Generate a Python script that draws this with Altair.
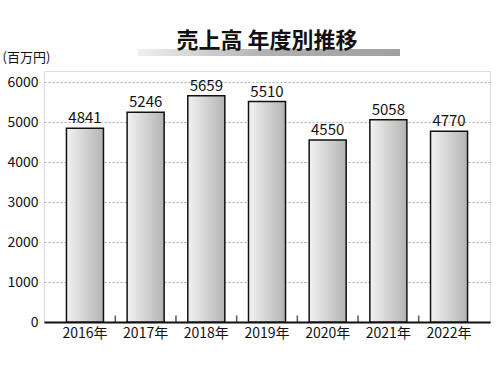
import altair as alt
import pandas as pd

years = ["2016年", "2017年", "2018年", "2019年", "2020年", "2021年", "2022年"]
sales = [4841, 5246, 5659, 5510, 4550, 5058, 4770]

df = pd.DataFrame({"year": years, "sales": sales})
bdf = pd.DataFrame({"year": years[:-1]})

FONT = "Noto Sans CJK JP"
P_IN = 0.39
P_OUT = 0.37
W = 446
STEP = W / (len(years) - P_IN + 2 * P_OUT)

xscale = alt.Scale(paddingInner=P_IN, paddingOuter=P_OUT)
x = alt.X("year:N", sort=years, scale=xscale,
          axis=alt.Axis(title=None, labelAngle=0, labelFontSize=14, labelFont=FONT,
                        labelColor="#111", ticks=False,
                        domainColor="#111", domainWidth=2, labelPadding=4))
y = alt.Y("sales:Q", scale=alt.Scale(domain=[0, 6275], nice=False),
          axis=alt.Axis(title="(百万円)", titleAngle=0, titleX=-42, titleY=-10,
                        titleAlign="left", titleBaseline="alphabetic",
                        titleFontSize=13, titleFontWeight="normal", titleFont=FONT,
                        titleColor="#111",
                        values=[0, 1000, 2000, 3000, 4000, 5000, 6000], format="d",
                        labelFontSize=14, labelFont=FONT, labelColor="#111",
                        grid=True, gridDash=[2, 2], gridColor="#aaa",
                        tickSize=0, domain=False, labelPadding=6))

bars = alt.Chart(df).mark_bar(
    color=alt.Gradient(gradient="linear", x1=0, x2=1, y1=0, y2=0,
                       stops=[alt.GradientStop(offset=0, color="#f2f2f2"),
                              alt.GradientStop(offset=1, color="#b4b4b4")]),
    stroke="#111", strokeWidth=1.5
).encode(x=x, y=y)

labels = alt.Chart(df).mark_text(dy=-10, fontSize=15, font=FONT, color="#111").encode(
    x=alt.X("year:N", sort=years), y="sales:Q", text="sales:Q")

bticks = alt.Chart(bdf).mark_tick(color="#111", thickness=1.5, size=7, orient="vertical",
                                  yOffset=-3, xOffset=P_IN * STEP / 2).encode(
    x=alt.X("year:N", sort=years, bandPosition=1),
    y=alt.value(251))

underline = alt.Chart(df).mark_rect(
    color=alt.Gradient(gradient="linear", x1=0, x2=1, y1=0, y2=0,
                       stops=[alt.GradientStop(offset=0, color="#f0f0f0"),
                              alt.GradientStop(offset=0.5, color="#b0b0b0"),
                              alt.GradientStop(offset=1, color="#a0a0a0")])
).encode(x=alt.value(94), x2=alt.value(356), y=alt.value(-22), y2=alt.value(-15))

chart = alt.layer(underline, bars, labels, bticks).properties(
    width=W, height=251,
    title=alt.TitleParams("売上高 年度別推移", fontSize=22, font=FONT, fontWeight="bold",
                          anchor="middle", offset=-4, color="#111"),
    autosize=alt.AutoSizeParams(type="none"),
    padding={"left": 44, "top": 71, "right": 10, "bottom": 53},
).configure_view(stroke="#111", strokeWidth=1.5).configure(background="white")

chart.save("out.html", embed_options={"renderer": "svg", "actions": False})
